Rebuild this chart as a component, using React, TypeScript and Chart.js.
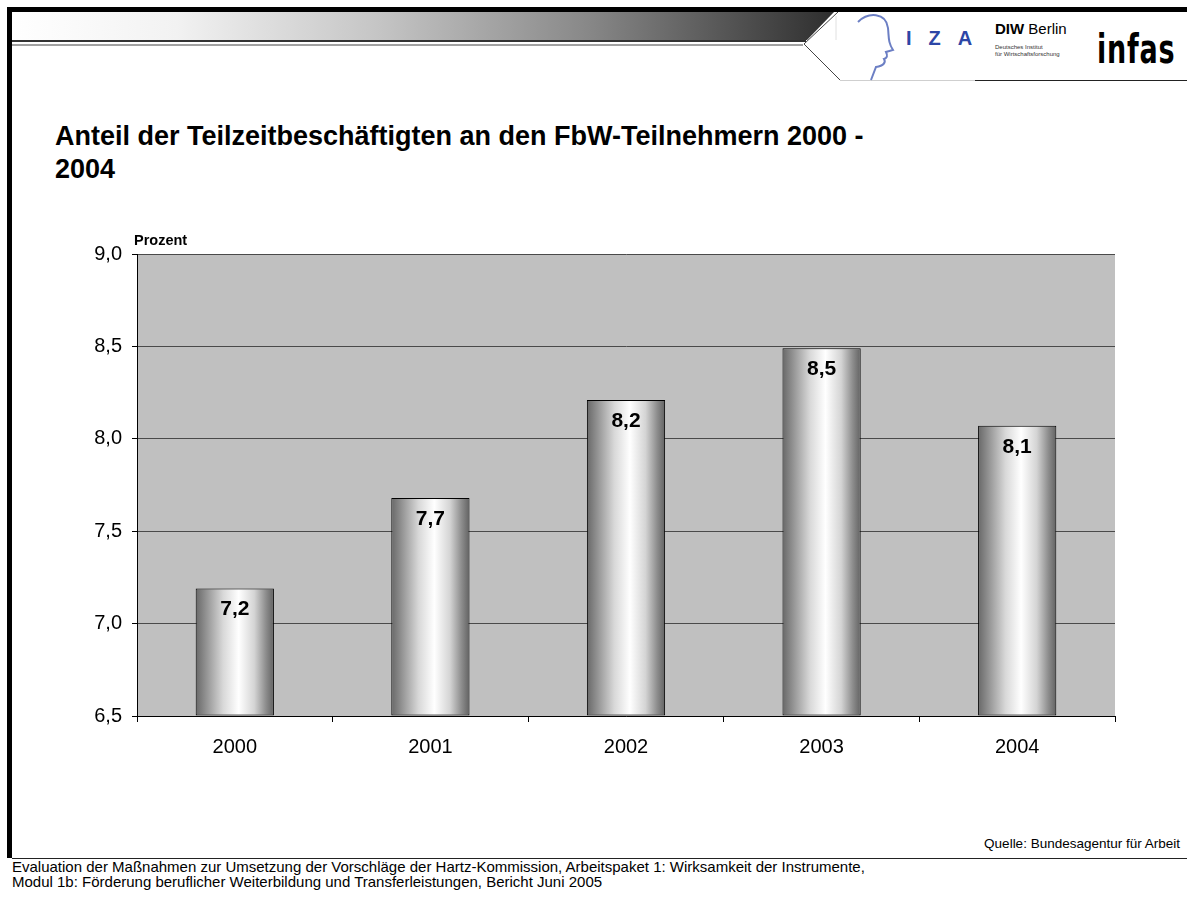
import React, { useEffect, useRef } from "react";
import { Chart, registerables } from "chart.js";

Chart.register(...registerables);

const categories = ["2000", "2001", "2002", "2003", "2004"];
const values = [7.19, 7.68, 8.21, 8.49, 8.07];
const yMin = 6.5;
const yMax = 9.0;
const yStep = 0.5;

const titleLines = ["Anteil der Teilzeitbeschäftigten an den FbW-Teilnehmern 2000 -", "2004"];
const axisUnit = "Prozent";
const sourceText = "Quelle: Bundesagentur für Arbeit";
const footerLines = [
  "Evaluation der Maßnahmen zur Umsetzung der Vorschläge der Hartz-Kommission, Arbeitspaket 1: Wirksamkeit der Instrumente,",
  "Modul 1b: Förderung beruflicher Weiterbildung und Transferleistungen, Bericht Juni 2005",
];

const FONT = "Arial, 'Liberation Sans', Helvetica, sans-serif";
const fmt = (v: number) => v.toFixed(1).replace(".", ",");

const CANVAS_TOP = 220;
const CANVAS_W = 1187;
const CANVAS_H = 560;

export default function App() {
  const ref = useRef<HTMLCanvasElement | null>(null);

  useEffect(() => {
    document.body.style.margin = "0";
    const canvas = ref.current;
    if (!canvas) return;

    const bgPlugin = {
      id: "plotBg",
      beforeDraw(chart: any) {
        const { ctx, chartArea } = chart;
        ctx.save();
        ctx.fillStyle = "#c0c0c0";
        ctx.fillRect(chartArea.left, chartArea.top, chartArea.right - chartArea.left, chartArea.bottom - chartArea.top);
        ctx.restore();
      },
    };

    const labelPlugin = {
      id: "valLabels",
      afterDatasetsDraw(chart: any) {
        const { ctx } = chart;
        const meta = chart.getDatasetMeta(0);
        ctx.save();
        ctx.font = `bold 21px ${FONT}`;
        ctx.fillStyle = "#000";
        ctx.textAlign = "center";
        ctx.textBaseline = "middle";
        meta.data.forEach((bar: any, i: number) => {
          ctx.fillText(fmt(values[i]), bar.x, bar.y + 21);
        });
        ctx.restore();
      },
    };

    const chart = new Chart(canvas, {
      type: "bar",
      data: {
        labels: categories,
        datasets: [
          {
            data: values,
            base: yMin,
            borderColor: "#000",
            borderWidth: 1,
            borderSkipped: false,
            categoryPercentage: 0.4,
            barPercentage: 1,
            backgroundColor: (c: any) => {
              const ch = c.chart;
              const xs = ch.scales && ch.scales.x;
              if (!xs || !ch.chartArea) return "#cccccc";
              const cx = xs.getPixelForValue(c.dataIndex);
              const w = ((xs.right - xs.left) / categories.length) * 0.4;
              const g = ch.ctx.createLinearGradient(cx - w / 2, 0, cx + w / 2, 0);
              g.addColorStop(0, "#686868");
              g.addColorStop(0.12, "#8e8e8e");
              g.addColorStop(0.35, "#d8d8d8");
              g.addColorStop(0.55, "#ffffff");
              g.addColorStop(0.75, "#d4d4d4");
              g.addColorStop(0.9, "#8c8c8c");
              g.addColorStop(1, "#626262");
              return g;
            },
          } as any,
        ],
      },
      options: {
        responsive: false,
        animation: false,
        events: [],
        layout: { padding: { left: 0, right: 72, top: 34, bottom: 4 } },
        plugins: { legend: { display: false }, tooltip: { enabled: false }, title: { display: false } },
        scales: {
          x: {
            offset: true,
            grid: {
              offset: true,
              drawOnChartArea: false,
              drawTicks: true,
              tickLength: 6,
              tickColor: "#000",
              tickWidth: 1,
            },
            border: { display: true, color: "#000", width: 1 },
            ticks: { color: "#000", font: { family: FONT, size: 20 }, padding: 13, maxRotation: 0 },
            afterFit: (s: any) => {
              s.height = 60;
            },
          },
          y: {
            min: yMin,
            max: yMax,
            grid: {
              color: "#4a4a4a",
              lineWidth: 1,
              drawTicks: true,
              tickLength: 5,
              tickColor: "#000",
            },
            border: { display: true, color: "#000", width: 1 },
            ticks: {
              stepSize: yStep,
              color: "#000",
              padding: 10,
              font: { family: FONT, size: 20 },
              callback: (v: any) => fmt(Number(v)),
            },
            afterFit: (s: any) => {
              s.width = 137;
            },
          },
        },
      },
      plugins: [bgPlugin, labelPlugin],
    });

    return () => chart.destroy();
  }, []);

  const abs = (o: React.CSSProperties): React.CSSProperties => ({ position: "absolute", ...o });

  return (
    <div style={{ position: "relative", width: 1187, height: 897, background: "#fff", overflow: "hidden", fontFamily: FONT }}>
      <svg width={1187} height={100} style={abs({ left: 0, top: 0 })}>
        <defs>
          <linearGradient id="band" x1="0" y1="0" x2="1" y2="0">
            <stop offset="0" stopColor="#ffffff" />
            <stop offset="0.2" stopColor="#f2f2f2" />
            <stop offset="0.45" stopColor="#c4c4c4" />
            <stop offset="0.7" stopColor="#888888" />
            <stop offset="1" stopColor="#2e2e2e" />
          </linearGradient>
        </defs>
        <rect x={7} y={7} width={1180} height={5} fill="#000" />
        <polygon points="12,12 834,12 807,40 12,40" fill="url(#band)" />
        <line x1={12} y1={41} x2={806} y2={41} stroke="#333" strokeWidth={2} />
        <line x1={12} y1={45} x2={803} y2={45} stroke="#444" strokeWidth={1} />
        <polyline points="838,12 804,44 840,80" fill="none" stroke="#444" strokeWidth={1} />
        <line x1={840} y1={80.5} x2={975} y2={80.5} stroke="#cfcfcf" strokeWidth={1} />
        <line x1={975} y1={80.5} x2={1187} y2={80.5} stroke="#222" strokeWidth={1} />
        <path
          d="M 858 22 C 868 12, 886 12, 888 28 C 889 38, 888 42, 893 50 L 886 52 C 888 56, 887 58, 884 59 C 886 62, 884 66, 876 67 L 871 80"
          fill="none"
          stroke="#6c7fc4"
          strokeWidth={2}
        />
        <line x1={836} y1={16} x2={836} y2={40} stroke="#e0e0e0" strokeWidth={1} />
      </svg>

      <div style={abs({ left: 906, top: 27, fontSize: 20, fontWeight: "bold", color: "#2d46a6", letterSpacing: 17, whiteSpace: "nowrap" })}>IZA</div>
      <div style={abs({ left: 995, top: 20, fontSize: 15, color: "#000", whiteSpace: "nowrap" })}>
        <b>DIW</b> Berlin
      </div>
      <div style={abs({ left: 995, top: 44, fontSize: 6, lineHeight: "7px", color: "#333", whiteSpace: "nowrap" })}>
        Deutsches Institut
        <br />
        für Wirtschaftsforschung
      </div>
      <div
        style={abs({
          left: 1097,
          top: 27,
          fontSize: 40,
          lineHeight: "44px",
          fontWeight: "bold",
          color: "#000",
          fontFamily: "'Liberation Sans Narrow', 'DejaVu Sans Condensed', Arial, sans-serif",
          transform: "scaleX(0.75)",
          transformOrigin: "left top",
          letterSpacing: 1,
          whiteSpace: "nowrap",
        })}
      >
        infas
      </div>

      <div style={abs({ left: 7, top: 12, width: 5, height: 846, background: "#000" })} />
      <div style={abs({ left: 12, top: 858, width: 1175, height: 1, background: "#222" })} />

      <div style={abs({ left: 55, top: 120, fontSize: 27, fontWeight: "bold", lineHeight: "33px", color: "#000", whiteSpace: "nowrap" })}>
        {titleLines.map((t, i) => (
          <div key={i}>{t}</div>
        ))}
      </div>

      <div style={abs({ left: 0, top: CANVAS_TOP, width: CANVAS_W, height: CANVAS_H })}>
        <canvas ref={ref} width={CANVAS_W} height={CANVAS_H} style={{ display: "block" }} />
      </div>

      <div style={abs({ left: 134, top: 232, fontSize: 14.5, fontWeight: "bold", color: "#000", whiteSpace: "nowrap" })}>{axisUnit}</div>

      <div style={abs({ right: 7, top: 836, fontSize: 13.5, color: "#000", whiteSpace: "nowrap" })}>{sourceText}</div>

      <div style={abs({ left: 12, top: 859, fontSize: 15, lineHeight: "15px", color: "#000", whiteSpace: "nowrap" })}>
        {footerLines.map((t, i) => (
          <div key={i}>{t}</div>
        ))}
      </div>
    </div>
  );
}
